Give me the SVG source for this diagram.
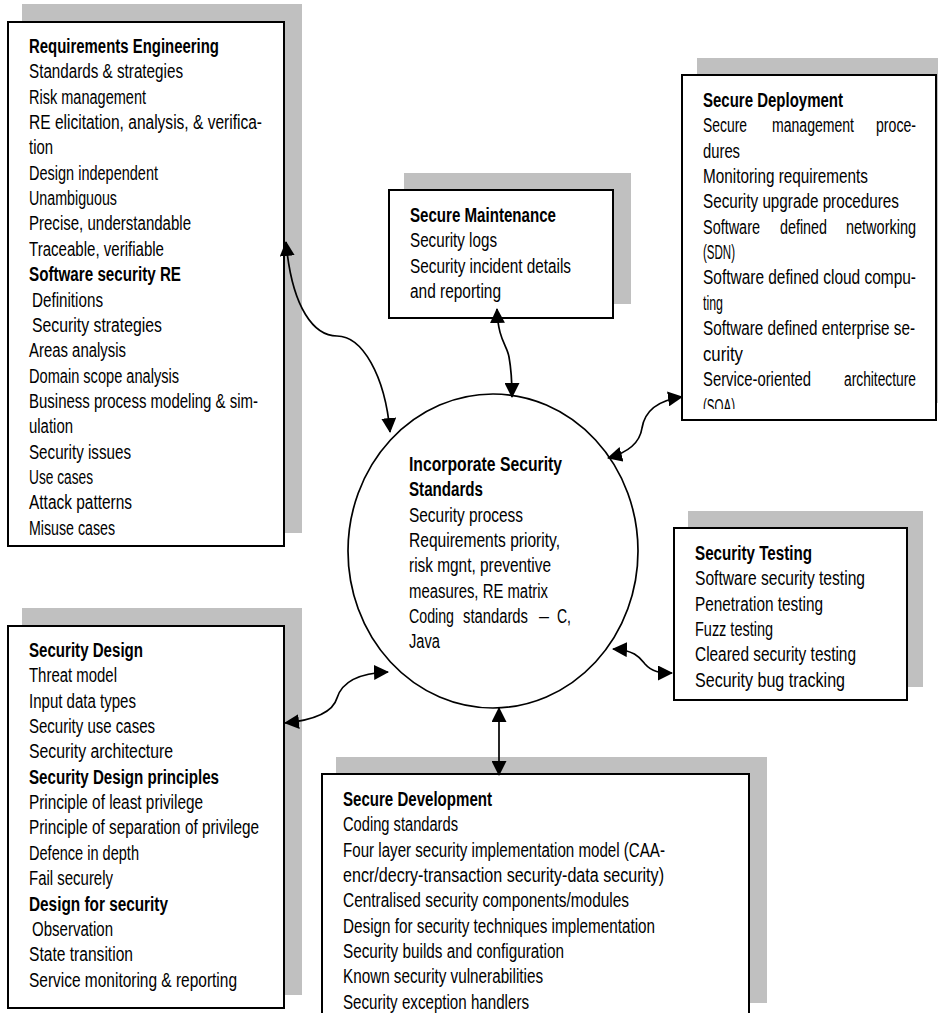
<svg xmlns="http://www.w3.org/2000/svg" width="938" height="1013" viewBox="0 0 938 1013">
<style>
.bg{fill:#ffffff}
.sh{fill:#c0c0c0;stroke:none}
.bx{fill:#ffffff;stroke:#000000;stroke-width:2}
.ci{fill:#ffffff;stroke:#000000;stroke-width:1.7}
.t{font-family:"Liberation Sans",Arial,sans-serif;font-size:20px;fill:#000000}
.b{font-weight:bold}
.cn{fill:none;stroke:#000000;stroke-width:1.7;marker-start:url(#arr);marker-end:url(#arr)}
</style>
<defs>
<marker id="arr" viewBox="0 0 15 15" refX="14" refY="7.5" markerWidth="15" markerHeight="15" markerUnits="userSpaceOnUse" orient="auto-start-reverse">
<path d="M0,0 L15,7.5 L0,15 z" fill="#000000"/>
</marker>
<clipPath id="clipDep"><rect x="682" y="75" width="256" height="334"/></clipPath>
</defs>
<rect class="bg" x="0" y="0" width="938" height="1013"/>

<g id="requirements-engineering">
<rect class="sh" x="22" y="4" width="280" height="529"/>
<rect class="bx" x="8" y="22" width="276" height="524"/>
<text class="t b" x="29" y="53" textLength="190" lengthAdjust="spacingAndGlyphs">Requirements Engineering</text>
<text class="t" x="29" y="78.35" textLength="154" lengthAdjust="spacingAndGlyphs">Standards &amp; strategies</text>
<text class="t" x="29" y="103.7" textLength="117" lengthAdjust="spacingAndGlyphs">Risk management</text>
<text class="t" x="29" y="129.05" textLength="233" lengthAdjust="spacingAndGlyphs">RE elicitation, analysis, &amp; verifica-</text>
<text class="t" x="29" y="154.4" textLength="24" lengthAdjust="spacingAndGlyphs">tion</text>
<text class="t" x="29" y="179.75" textLength="129" lengthAdjust="spacingAndGlyphs">Design independent</text>
<text class="t" x="29" y="205.1" textLength="88" lengthAdjust="spacingAndGlyphs">Unambiguous</text>
<text class="t" x="29" y="230.45" textLength="162" lengthAdjust="spacingAndGlyphs">Precise, understandable</text>
<text class="t" x="29" y="255.8" textLength="135" lengthAdjust="spacingAndGlyphs">Traceable, verifiable</text>
<text class="t b" x="29" y="281.15" textLength="152" lengthAdjust="spacingAndGlyphs">Software security RE</text>
<text class="t" x="32" y="306.5" textLength="71" lengthAdjust="spacingAndGlyphs">Definitions</text>
<text class="t" x="32" y="331.85" textLength="130" lengthAdjust="spacingAndGlyphs">Security strategies</text>
<text class="t" x="29" y="357.2" textLength="97" lengthAdjust="spacingAndGlyphs">Areas analysis</text>
<text class="t" x="29" y="382.55" textLength="150" lengthAdjust="spacingAndGlyphs">Domain scope analysis</text>
<text class="t" x="29" y="407.9" textLength="229" lengthAdjust="spacingAndGlyphs">Business process modeling &amp; sim-</text>
<text class="t" x="29" y="433.25" textLength="44" lengthAdjust="spacingAndGlyphs">ulation</text>
<text class="t" x="29" y="458.6" textLength="102" lengthAdjust="spacingAndGlyphs">Security issues</text>
<text class="t" x="29" y="483.95" textLength="64" lengthAdjust="spacingAndGlyphs">Use cases</text>
<text class="t" x="29" y="509.3" textLength="103" lengthAdjust="spacingAndGlyphs">Attack patterns</text>
<text class="t" x="29" y="534.65" textLength="86" lengthAdjust="spacingAndGlyphs">Misuse cases</text>
</g>

<g id="secure-maintenance">
<rect class="sh" x="404" y="173" width="227" height="131"/>
<rect class="bx" x="389" y="190" width="224" height="128"/>
<text class="t b" x="410" y="222" textLength="146" lengthAdjust="spacingAndGlyphs">Secure Maintenance</text>
<text class="t" x="410" y="247.35" textLength="87" lengthAdjust="spacingAndGlyphs">Security logs</text>
<text class="t" x="410" y="272.7" textLength="161" lengthAdjust="spacingAndGlyphs">Security incident details</text>
<text class="t" x="410" y="298.05" textLength="91" lengthAdjust="spacingAndGlyphs">and reporting</text>
</g>

<g id="secure-deployment">
<rect class="sh" x="697" y="58" width="245" height="345"/>
<rect class="bx" x="682" y="75" width="254" height="345"/>
<g clip-path="url(#clipDep)">
<text class="t b" x="703" y="107" textLength="140" lengthAdjust="spacingAndGlyphs">Secure Deployment</text>
<text class="t" x="703" y="132.35" textLength="44" lengthAdjust="spacingAndGlyphs">Secure</text>
<text class="t" x="772" y="132.35" textLength="82" lengthAdjust="spacingAndGlyphs">management</text>
<text class="t" x="876" y="132.35" textLength="40" lengthAdjust="spacingAndGlyphs">proce-</text>
<text class="t" x="703" y="157.7" textLength="37" lengthAdjust="spacingAndGlyphs">dures</text>
<text class="t" x="703" y="183.05" textLength="165" lengthAdjust="spacingAndGlyphs">Monitoring requirements</text>
<text class="t" x="703" y="208.4" textLength="196" lengthAdjust="spacingAndGlyphs">Security upgrade procedures</text>
<text class="t" x="703" y="233.75" textLength="57" lengthAdjust="spacingAndGlyphs">Software</text>
<text class="t" x="780" y="233.75" textLength="47" lengthAdjust="spacingAndGlyphs">defined</text>
<text class="t" x="846" y="233.75" textLength="70" lengthAdjust="spacingAndGlyphs">networking</text>
<text class="t" x="703" y="259.1" textLength="32" lengthAdjust="spacingAndGlyphs">(SDN)</text>
<text class="t" x="703" y="284.45" textLength="213" lengthAdjust="spacingAndGlyphs">Software defined cloud compu-</text>
<text class="t" x="703" y="309.8" textLength="20" lengthAdjust="spacingAndGlyphs">ting</text>
<text class="t" x="703" y="335.15" textLength="212" lengthAdjust="spacingAndGlyphs">Software defined enterprise se-</text>
<text class="t" x="703" y="360.5" textLength="40" lengthAdjust="spacingAndGlyphs">curity</text>
<text class="t" x="703" y="385.85" textLength="108" lengthAdjust="spacingAndGlyphs">Service-oriented</text>
<text class="t" x="844" y="385.85" textLength="72" lengthAdjust="spacingAndGlyphs">architecture</text>
<text class="t" x="703" y="413" textLength="32" lengthAdjust="spacingAndGlyphs">(SOA)</text>
</g>
</g>

<g id="security-testing">
<rect class="sh" x="688" y="511" width="235" height="176"/>
<rect class="bx" x="674" y="528" width="233" height="172"/>
<text class="t b" x="695" y="560" textLength="117" lengthAdjust="spacingAndGlyphs">Security Testing</text>
<text class="t" x="695" y="585.35" textLength="170" lengthAdjust="spacingAndGlyphs">Software security testing</text>
<text class="t" x="695" y="610.7" textLength="128" lengthAdjust="spacingAndGlyphs">Penetration testing</text>
<text class="t" x="695" y="636.05" textLength="78" lengthAdjust="spacingAndGlyphs">Fuzz testing</text>
<text class="t" x="695" y="661.4" textLength="161" lengthAdjust="spacingAndGlyphs">Cleared security testing</text>
<text class="t" x="695" y="686.75" textLength="150" lengthAdjust="spacingAndGlyphs">Security bug tracking</text>
</g>

<g id="security-design">
<rect class="sh" x="22" y="608" width="280" height="387"/>
<rect class="bx" x="8" y="626" width="276" height="382"/>
<text class="t b" x="29" y="657" textLength="114" lengthAdjust="spacingAndGlyphs">Security Design</text>
<text class="t" x="29" y="682.35" textLength="88" lengthAdjust="spacingAndGlyphs">Threat model</text>
<text class="t" x="29" y="707.7" textLength="107" lengthAdjust="spacingAndGlyphs">Input data types</text>
<text class="t" x="29" y="733.05" textLength="126" lengthAdjust="spacingAndGlyphs">Security use cases</text>
<text class="t" x="29" y="758.4" textLength="144" lengthAdjust="spacingAndGlyphs">Security architecture</text>
<text class="t b" x="29" y="783.75" textLength="190" lengthAdjust="spacingAndGlyphs">Security Design principles</text>
<text class="t" x="29" y="809.1" textLength="174" lengthAdjust="spacingAndGlyphs">Principle of least privilege</text>
<text class="t" x="29" y="834.45" textLength="230" lengthAdjust="spacingAndGlyphs">Principle of separation of privilege</text>
<text class="t" x="29" y="859.8" textLength="110" lengthAdjust="spacingAndGlyphs">Defence in depth</text>
<text class="t" x="29" y="885.15" textLength="84" lengthAdjust="spacingAndGlyphs">Fail securely</text>
<text class="t b" x="29" y="910.5" textLength="139" lengthAdjust="spacingAndGlyphs">Design for security</text>
<text class="t" x="32" y="935.85" textLength="81" lengthAdjust="spacingAndGlyphs">Observation</text>
<text class="t" x="29" y="961.2" textLength="104" lengthAdjust="spacingAndGlyphs">State transition</text>
<text class="t" x="29" y="986.55" textLength="208" lengthAdjust="spacingAndGlyphs">Service monitoring &amp; reporting</text>
</g>

<g id="secure-development">
<rect class="sh" x="336" y="757" width="431" height="246"/>
<rect class="bx" x="322" y="774" width="427" height="260"/>
<text class="t b" x="343" y="806" textLength="149" lengthAdjust="spacingAndGlyphs">Secure Development</text>
<text class="t" x="343" y="831.35" textLength="115" lengthAdjust="spacingAndGlyphs">Coding standards</text>
<text class="t" x="343" y="856.7" textLength="322" lengthAdjust="spacingAndGlyphs">Four layer security implementation model (CAA-</text>
<text class="t" x="343" y="882.05" textLength="321" lengthAdjust="spacingAndGlyphs">encr/decry-transaction security-data security)</text>
<text class="t" x="343" y="907.4" textLength="286" lengthAdjust="spacingAndGlyphs">Centralised security components/modules</text>
<text class="t" x="343" y="932.75" textLength="312" lengthAdjust="spacingAndGlyphs">Design for security techniques implementation</text>
<text class="t" x="343" y="958.1" textLength="221" lengthAdjust="spacingAndGlyphs">Security builds and configuration</text>
<text class="t" x="343" y="983.45" textLength="200" lengthAdjust="spacingAndGlyphs">Known security vulnerabilities</text>
<text class="t" x="343" y="1008.8" textLength="186" lengthAdjust="spacingAndGlyphs">Security exception handlers</text>
</g>

<g id="incorporate-security-standards">
<ellipse class="ci" cx="493" cy="551" rx="145" ry="157"/>
<text class="t b" x="409" y="471" textLength="153" lengthAdjust="spacingAndGlyphs">Incorporate Security</text>
<text class="t b" x="409" y="496.35" textLength="74" lengthAdjust="spacingAndGlyphs">Standards</text>
<text class="t" x="409" y="521.7" textLength="114" lengthAdjust="spacingAndGlyphs">Security process</text>
<text class="t" x="409" y="547.05" textLength="151" lengthAdjust="spacingAndGlyphs">Requirements priority,</text>
<text class="t" x="409" y="572.4" textLength="142" lengthAdjust="spacingAndGlyphs">risk mgnt, preventive</text>
<text class="t" x="409" y="597.75" textLength="139" lengthAdjust="spacingAndGlyphs">measures, RE matrix</text>
<text class="t" x="409" y="623.1" textLength="45" lengthAdjust="spacingAndGlyphs">Coding</text>
<text class="t" x="463" y="623.1" textLength="65" lengthAdjust="spacingAndGlyphs">standards</text>
<text class="t" x="539" y="623.1" textLength="10" lengthAdjust="spacingAndGlyphs">–</text>
<text class="t" x="557" y="623.1" textLength="14" lengthAdjust="spacingAndGlyphs">C,</text>
<text class="t" x="409" y="648.45" textLength="31" lengthAdjust="spacingAndGlyphs">Java</text>
</g>

<g id="connectors">
<path class="cn" d="M 286 242 C 292 310, 315 336, 337 336 C 362 336, 385 375, 390 432"/>
<path class="cn" d="M 497 309 C 498 340, 507 345, 509 357 C 511 368, 512 380, 512 397"/>
<path class="cn" d="M 608 458 C 630 452, 640 442, 642 428 C 645 410, 660 400, 682 397"/>
<path class="cn" d="M 613 649 C 635 650, 640 658, 645 664 C 652 672, 660 673, 672 673"/>
<path class="cn" d="M 285 723 C 315 720, 333 712, 337 698 C 342 682, 360 673, 388 672"/>
<path class="cn" d="M 499 708 L 499 775"/>
</g>
</svg>
